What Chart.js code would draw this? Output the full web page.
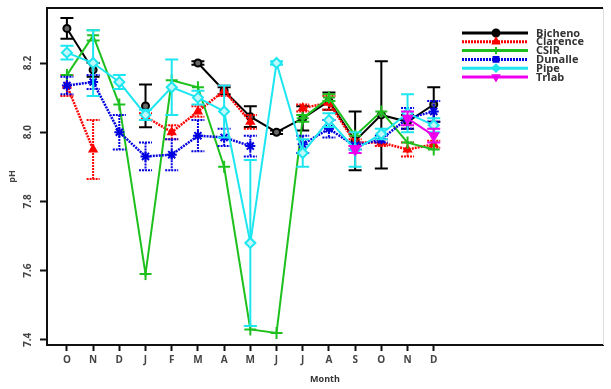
<!DOCTYPE html>
<html>
<head>
<meta charset="utf-8">
<script src="https://cdn.jsdelivr.net/npm/chart.js@4.4.1/dist/chart.umd.min.js"></script>
<style>
  html, body { margin: 0; padding: 0; background: #fff; }
</style>
</head>
<body>
<canvas id="chart" width="611" height="389"></canvas>
<script>
// months Oct .. Dec of the following year
const months = ['O', 'N', 'D', 'J', 'F', 'M', 'A', 'M', 'J', 'J', 'A', 'S', 'O', 'N', 'D'];
const yTicks = [7.4, 7.6, 7.8, 8.0, 8.2];

const bicheno     = [8.30, 8.18, null, 8.076, null, 8.20, 8.12, 8.045, 8.00, 8.04, 8.09, 7.975, 8.05, 8.03, 8.08];
const bichenoErr  = [0.03, 0.02, null, 0.062, null, 0.005, 0.01, 0.03, 0.005, 0.035, 0.025, 0.085, 0.155, 0.02, 0.05];
const clarence    = [8.135, 7.95, null, 8.045, 8.0, 8.06, 8.12, 8.03, null, 8.07, 8.085, 7.97, 7.97, 7.95, 7.965];
const clarenceErr = [0.03, 0.085, null, 0.01, 0.02, 0.015, 0.015, 0.02, null, 0.01, 0.02, 0.01, 0.01, 0.02, 0.01];
const csir        = [8.165, 8.28, 8.08, 7.59, 8.15, 8.13, 7.90, 7.43, 7.42, 8.04, 8.10, 7.99, 8.06, 7.97, 7.95];
const csirErr     = [0, 0.015, 0, 0, 0, 0, 0, 0, 0, 0.01, 0.01, 0, 0, 0, 0];
const dunalle     = [8.135, 8.145, 8.0, 7.93, 7.935, 7.99, 7.985, 7.96, null, 7.965, 8.01, 7.96, 7.98, 8.04, 8.06];
const dunalleErr  = [0.025, 0.02, 0.05, 0.04, 0.045, 0.045, 0.025, 0.03, null, 0.025, 0.025, 0.01, 0.01, 0.03, 0.03];
const pipe        = [8.23, 8.20, 8.145, 8.05, 8.13, 8.10, 8.06, 7.68, 8.20, 7.94, 8.035, 7.95, 7.995, 8.055, 8.02];
const pipeErr     = [0.02, 0.095, 0.02, 0.015, 0.08, 0.02, 0.075, 0.24, 0.005, 0.04, 0.02, 0.05, 0.015, 0.055, 0.02];
const trlab       = [null, null, null, null, null, null, null, null, null, null, null, 7.95, null, 8.04, 7.99];
const trlabErr    = [null, null, null, null, null, null, null, null, null, null, null, 0.01, null, 0.02, 0.02];

const toPoints = vals => vals.map((v, i) => ({ x: i, y: v }));

function series(label, vals, errs, color, style, extra) {
  return Object.assign({
    label,
    data: toPoints(vals),
    errors: errs,
    borderColor: color,
    backgroundColor: color,
    borderWidth: 2,
    pointStyle: style,
    pointRadius: 4,
    pointBorderColor: color,
    pointBackgroundColor: color,
    pointBorderWidth: 2,
    tension: 0,
  }, extra || {});
}

const datasets = [
  series('Bicheno', bicheno, bichenoErr, '#000000', 'circle', { pointRadius: 3.5, pointBackgroundColor: '#666', order: 6 }),
  series('Clarence', clarence, clarenceErr, '#ff0000', 'triangle', { borderDash: [2, 1], borderWidth: 2.5, order: 5 }),
  series('CSIR', csir, csirErr, '#1ec01e', 'cross', { pointRadius: 6, order: 4 }),
  series('Dunalle', dunalle, dunalleErr, '#0000e0', 'star', { borderDash: [2, 1], borderWidth: 2.5, pointRadius: 5, order: 3 }),
  series('Pipe', pipe, pipeErr, '#1ee6f0', 'rectRot', { pointRadius: 5, pointBackgroundColor: '#bff7fa', order: 2 }),
  series('Trlab', trlab, trlabErr, '#ee00ee', 'triangle', { pointRadius: 5, rotation: 180, order: 1 }),
];

// vertical error bars with caps, drawn under each series' line
const errorBars = {
  id: 'errorBars',
  beforeDatasetDraw(chart, args) {
    const ds = chart.data.datasets[args.index];
    if (!ds.errors) return;
    const xs = chart.scales.x, ys = chart.scales.y, ctx = chart.ctx;
    ctx.save();
    ctx.strokeStyle = ds.borderColor;
    ctx.lineWidth = 2;
    ctx.setLineDash(ds.borderDash || []);
    ds.data.forEach((p, i) => {
      const e = ds.errors[i];
      if (p.y == null || !e) return;
      const px = xs.getPixelForValue(p.x);
      const top = ys.getPixelForValue(p.y + e);
      const bot = ys.getPixelForValue(p.y - e);
      ctx.beginPath();
      ctx.moveTo(px, top); ctx.lineTo(px, bot);
      ctx.moveTo(px - 6.5, top); ctx.lineTo(px + 6.5, top);
      ctx.moveTo(px - 6.5, bot); ctx.lineTo(px + 6.5, bot);
      ctx.stroke();
    });
    ctx.restore();
  }
};

// frame, rotated y labels, pH title and the legend inside the plot box
const decorations = {
  id: 'decorations',
  afterDraw(chart) {
    const { ctx, chartArea: a } = chart;
    const ys = chart.scales.y;
    ctx.save();
    ctx.strokeStyle = '#111';
    ctx.lineWidth = 2;
    ctx.beginPath();
    ctx.moveTo(a.left, a.top); ctx.lineTo(a.right, a.top);
    ctx.stroke();
    ctx.strokeStyle = '#ddd';
    ctx.lineWidth = 1;
    ctx.beginPath();
    ctx.moveTo(a.right + 0.5, a.top); ctx.lineTo(a.right + 0.5, a.bottom);
    ctx.stroke();

    ctx.fillStyle = '#444';
    ctx.font = "bold 10px 'Open Sans'";
    ctx.textAlign = 'center';
    ctx.textBaseline = 'middle';
    yTicks.forEach(v => {
      ctx.save();
      ctx.translate(28, ys.getPixelForValue(v));
      ctx.rotate(-Math.PI / 2);
      ctx.fillText(v.toFixed(1), 0, 0);
      ctx.restore();
    });
    ctx.save();
    ctx.font = "bold 9px 'Open Sans'";
    ctx.translate(12, (a.top + a.bottom) / 2);
    ctx.rotate(-Math.PI / 2);
    ctx.fillText('pH', 0, 0);
    ctx.restore();

    // legend
    chart.data.datasets.forEach((ds, i) => {
      const y = 33 + i * 8.8;
      ctx.save();
      ctx.strokeStyle = ds.borderColor;
      ctx.lineWidth = 3;
      ctx.setLineDash(ds.borderDash || []);
      ctx.beginPath();
      ctx.moveTo(462, y); ctx.lineTo(528, y);
      ctx.stroke();
      ctx.restore();
      ctx.save();
      ctx.fillStyle = ds.borderColor;
      ctx.strokeStyle = ds.borderColor;
      ctx.lineWidth = 2;
      Chart.helpers.drawPoint(ctx, {
        pointStyle: ds.pointStyle === 'star' ? 'rect' : ds.pointStyle,
        radius: 3.5,
        rotation: ds.rotation || 0,
        borderWidth: 2,
      }, 496, y);
      ctx.restore();
      ctx.fillStyle = '#333';
      ctx.font = "bold 11px 'Open Sans'";
      ctx.textAlign = 'left';
      ctx.fillText(ds.label, 536, y + 0.5);
    });
    ctx.restore();
  }
};

new Chart(document.getElementById('chart'), {
  type: 'line',
  data: { datasets },
  plugins: [errorBars, decorations],
  options: {
    responsive: false,
    devicePixelRatio: 1,
    animation: false,
    layout: { padding: { left: 0, top: 8, right: 6, bottom: 0 } },
    plugins: {
      legend: { display: false },
      tooltip: { enabled: false },
    },
    scales: {
      x: {
        type: 'linear',
        min: -0.76,
        max: 20.46,
        afterBuildTicks: s => { s.ticks = months.map((m, i) => ({ value: i })); },
        afterFit: s => { s.height = 44; },
        ticks: {
          callback: v => months[v],
          autoSkip: false,
          maxRotation: 0,
          color: '#444',
          padding: 3,
          font: { family: "'Open Sans'", size: 10, weight: 'bold' },
        },
        grid: { drawOnChartArea: false, color: '#111', tickLength: 6, tickWidth: 2 },
        border: { color: '#111', width: 2 },
        title: {
          display: true,
          text: 'Month',
          color: '#333',
          padding: { top: 0, bottom: 4 },
          font: { family: "'Open Sans'", size: 9, weight: 'bold' },
        },
      },
      y: {
        min: 7.385,
        max: 8.359,
        afterBuildTicks: s => { s.ticks = yTicks.map(v => ({ value: v })); },
        afterFit: s => { s.width = 47; },
        ticks: { display: false },
        grid: { drawOnChartArea: false, color: '#111', tickLength: 7, tickWidth: 2 },
        border: { color: '#111', width: 2 },
      },
    },
  },
});
</script>
</body>
</html>
